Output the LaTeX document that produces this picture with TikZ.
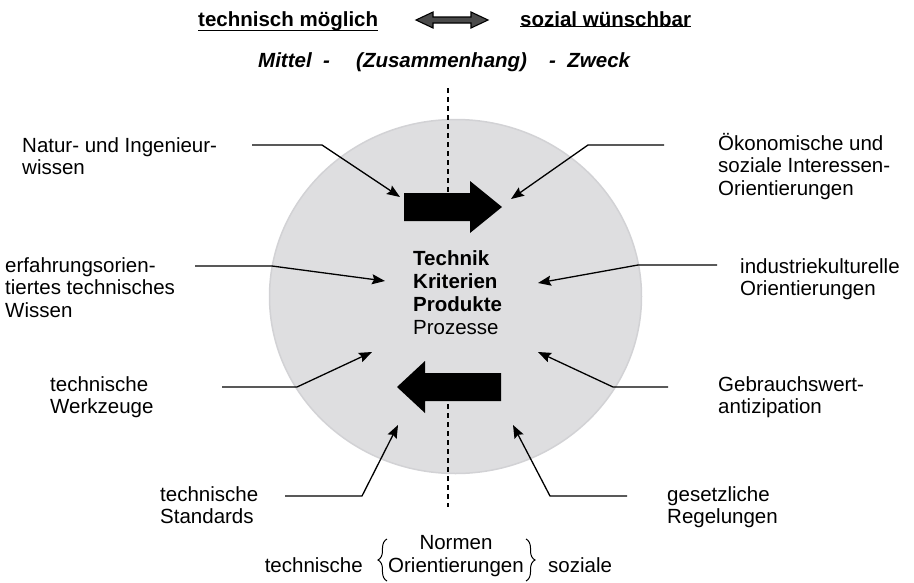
\documentclass[tikz,border=0pt]{standalone}
\usepackage{fontspec}
\setmainfont{Liberation Sans}
\usetikzlibrary{arrows.meta,decorations.pathreplacing}
\newcommand\stk[1]{\begin{tabular}[t]{@{}l@{}}#1\end{tabular}}
\definecolor{diskfill}{HTML}{DEDEE0}
\definecolor{diskedge}{HTML}{D2D2D5}
\definecolor{dblgray}{HTML}{4A4A4A}
\begin{document}
\begin{tikzpicture}[x=1pt,y=-1pt,
  lbl/.style={anchor=base west, inner sep=0pt, font=\fontsize{20.5}{22.5}\selectfont},
  ctr/.style={anchor=base west, inner sep=0pt, font=\fontsize{20.5}{23}\selectfont},
  ttl/.style={anchor=base west, inner sep=0pt, font=\fontsize{20.5}{24}\selectfont\bfseries},
  sub/.style={anchor=base west, inner sep=0pt, font=\fontsize{20.5}{23}\selectfont\bfseries\itshape},
  feed/.style={line width=1.3pt, line join=round, -{Stealth[length=13pt,width=10pt,inset=2pt]}},
  axis/.style={line width=1.4pt, dash pattern=on 5pt off 4pt},
  bigarrow/.style={fill=black},
  brc/.style={line width=1pt, decorate, decoration={brace, amplitude=9pt, aspect=0.5}}]
\useasboundingbox (0,0) rectangle (914,582);

% central disk
\filldraw[fill=diskfill, draw=diskedge, line width=1.5pt]
  (455.5,296.5) ellipse [x radius=186, y radius=177];

% dashed axis
\coordinate (axtop1) at (448,88);
\coordinate (axbot1) at (448,192);
\coordinate (axtop2) at (448,404);
\coordinate (axbot2) at (448,507);
\draw[axis] (axtop1) -- (axbot1);
\draw[axis] (axtop2) -- (axbot2);

% big block arrows
\fill[bigarrow] (404,193) -- (470,193) -- (470,181) -- (502,207) -- (470,233)
  -- (470,221) -- (404,221) -- cycle;
\fill[bigarrow] (501,373) -- (425,373) -- (425,361) -- (397,387) -- (425,413)
  -- (425,401) -- (501,401) -- cycle;

% title line
\node[ttl] (tm) at (198,26) {technisch möglich};
\node[ttl] (sw) at (520,26) {sozial wünschbar};
\draw[line width=1.2pt] (tm.south west) -- (tm.south east);
\draw[line width=1.2pt] (sw.south west) -- (sw.south east);
\filldraw[fill=dblgray, draw=black, line width=1.1pt]
  (416,20) -- (433,12) -- (433,17) -- (471,17) -- (471,12) -- (488,20)
  -- (471,28) -- (471,23) -- (433,23) -- (433,28) -- cycle;

\node[sub] (mi) at (258,67) {Mittel \ -};
\node[sub] (zu) at (356,67) {(Zusammenhang)};
\node[sub] (zw) at (549,67) {- \ Zweck};

% centre text
\node[ctr] (tk) at (413,265) {\stk{\textbf{Technik}\\\textbf{Kriterien}\\\textbf{Produkte}\\Prozesse}};

% side labels
\node[lbl] (natur) at (22,152) {\stk{Natur- und Ingenieur-\\wissen}};
\node[lbl] (erf) at (5,272) {\stk{erfahrungsorien-\\tiertes technisches\\Wissen}};
\node[lbl] (wzg) at (50,391) {\stk{technische\\Werkzeuge}};
\node[lbl] (std) at (160,501) {\stk{technische\\Standards}};
\node[lbl] (oek) at (718,150) {\stk{Ökonomische und\\soziale Interessen-\\Orientierungen}};
\node[lbl] (ind) at (740,273) {\stk{industriekulturelle\\Orientierungen}};
\node[lbl] (geb) at (718,391) {\stk{Gebrauchswert-\\antizipation}};
\node[lbl] (ges) at (667,501) {\stk{gesetzliche\\Regelungen}};

% feed-in connectors
\coordinate (nS) at (252,145); \coordinate (nB) at (322,145); \coordinate (nT) at (400,197);
\coordinate (oS) at (664,145); \coordinate (oB) at (588,145); \coordinate (oT) at (511,199);
\coordinate (eS) at (195,266); \coordinate (eB) at (272,266); \coordinate (eT) at (385,281);
\coordinate (iS) at (717,265); \coordinate (iB) at (638,265); \coordinate (iT) at (538,283);
\coordinate (wS) at (222,387); \coordinate (wB) at (297,387); \coordinate (wT) at (372,352);
\coordinate (gS) at (668,387); \coordinate (gB) at (613,387); \coordinate (gT) at (538,352);
\coordinate (sS) at (285,496); \coordinate (sB) at (362,496); \coordinate (sT) at (398,425);
\coordinate (rS) at (627,496); \coordinate (rB) at (550,496); \coordinate (rT) at (513,425);
\draw[feed] (nS) -- (nB) -- (nT);
\draw[feed] (oS) -- (oB) -- (oT);
\draw[feed] (eS) -- (eB) -- (eT);
\draw[feed] (iS) -- (iB) -- (iT);
\draw[feed] (wS) -- (wB) -- (wT);
\draw[feed] (gS) -- (gB) -- (gT);
\draw[feed] (sS) -- (sB) -- (sT);
\draw[feed] (rS) -- (rB) -- (rT);

% norms / orientations
\node[lbl, anchor=base] (ori) at (456,572) {Orientierungen};
\node[lbl, anchor=base] (nor) at (456,549) {Normen};
\coordinate (lbB) at ([xshift=-1pt]ori.west |- 0,581);
\coordinate (lbT) at ([xshift=-1pt]ori.west |- 0,539);
\coordinate (rbT) at ([xshift=2pt]ori.east |- 0,539);
\coordinate (rbB) at ([xshift=2pt]ori.east |- 0,581);
\draw[brc] (lbB) -- (lbT);
\draw[brc] (rbT) -- (rbB);
\node[lbl, anchor=base east] (tn) at ([xshift=-24pt]lbB |- 0,572) {technische};
\node[lbl] (sz) at ([xshift=22pt]rbB |- 0,572) {soziale};
\end{tikzpicture}
\end{document}
